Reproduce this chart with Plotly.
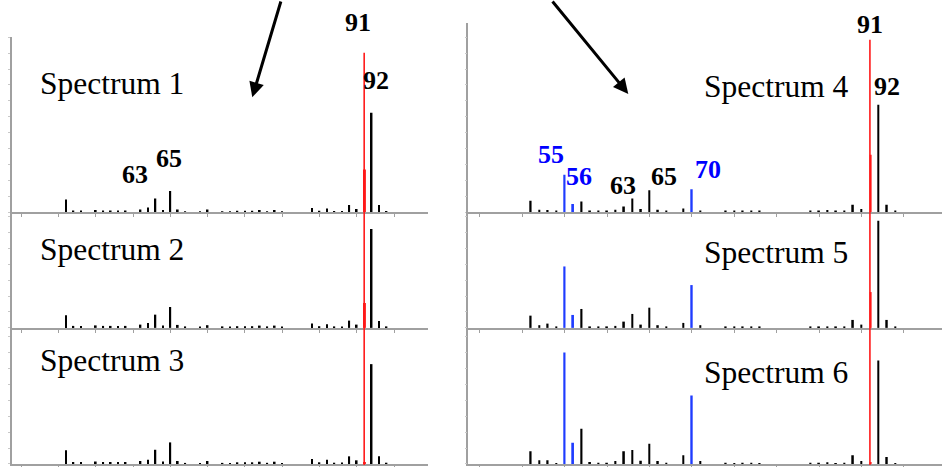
import plotly.graph_objects as go

# ---------------- data ----------------
mz_left = [51, 52, 53, 55, 56, 57, 58, 59, 61, 62, 63, 64, 65, 66, 67, 69, 70, 72, 73,
           74, 75, 76, 77, 78, 79, 80, 84, 85, 86, 87, 88, 89, 90, 92, 93, 94]
spec1 = [13.0, 2.0, 2.0, 2.5, 2.0, 2.0, 2.0, 2.0, 3.0, 5.0, 14.0, 2.5, 21.5, 3.0, 1.0, 1.0, 3.0, 1.0, 1.0,
         1.7, 1.7, 1.7, 2.3, 1.2, 2.3, 1.0, 4.5, 1.7, 4.0, 1.3, 1.5, 7.3, 3.5, 100.0, 7.3, 1.3]
spec2 = [12.7, 2.0, 2.0, 2.5, 2.0, 2.0, 2.0, 2.0, 3.3, 5.0, 13.3, 2.5, 21.0, 3.0, 1.0, 1.0, 2.7, 1.0, 1.0,
         1.7, 1.7, 1.7, 2.3, 1.2, 2.3, 1.0, 4.3, 1.7, 3.7, 1.3, 1.5, 7.3, 3.3, 99.3, 7.0, 1.3]
spec3 = [13.7, 2.0, 2.0, 2.5, 2.0, 2.0, 2.0, 2.0, 3.0, 4.3, 14.3, 2.5, 21.7, 3.0, 1.0, 1.0, 3.0, 1.0, 1.0,
         1.7, 1.7, 1.7, 2.3, 1.2, 2.3, 1.0, 5.0, 1.7, 4.3, 1.3, 1.5, 7.7, 3.7, 100.3, 7.7, 1.3]

mz_right = [51, 52, 53, 54, 57, 58, 59, 60, 61, 62, 63, 64, 65, 66, 67, 69, 71, 74, 75, 76, 77, 78,
            84, 85, 86, 87, 88, 89, 90, 92, 93, 94]
spec4 = [11.7, 2.7, 2.3, 1.0, 11.0, 1.3, 1.0, 1.0, 2.7, 6.0, 14.0, 3.3, 22.3, 2.7, 1.3, 4.0, 1.7, 2.0, 1.0, 1.3, 1.7, 1.0,
         1.0, 1.3, 2.3, 1.0, 1.0, 7.7, 3.3, 108.0, 7.7, 1.0]
spec5 = [12.3, 2.7, 4.3, 1.0, 19.0, 1.3, 1.0, 1.0, 2.0, 6.3, 14.0, 3.3, 20.3, 2.7, 1.3, 5.0, 2.7, 1.3, 1.0, 1.3, 1.3, 1.0,
         1.0, 1.0, 1.3, 1.0, 1.3, 8.0, 3.3, 107.7, 8.0, 1.0]
spec6 = [12.7, 3.7, 3.7, 1.0, 35.3, 2.0, 1.3, 1.3, 3.0, 12.7, 14.0, 3.3, 20.3, 3.0, 1.3, 8.7, 3.0, 1.3, 1.0, 1.3, 1.3, 1.0,
         1.3, 1.3, 1.7, 1.0, 1.3, 8.7, 3.0, 104.0, 7.0, 1.0]

blue_mz = [55, 56, 70]
blue4 = [37.7, 8.3, 23.3]
blue5 = [61.7, 13.0, 43.0]
blue6 = [112.0, 21.3, 68.7]

marker_mz = 91
red_left = [43.0, 25.0, 2.0]
red_right = [58.0, 36.0, 2.0]

spectrum_names = ["Spectrum 1", "Spectrum 2", "Spectrum 3", "Spectrum 4", "Spectrum 5", "Spectrum 6"]

# ---------------- layout helpers ----------------
W, H = 942, 467


def py(px):
    return 1 - px / H


def pxx(px):
    return px / W


BLACK = "#000000"
BLUE = "#1f3cff"
RED = "#ff1a1a"
AXIS = "#a0a0a0"
FONT = "Times New Roman, Liberation Serif, serif"

fig = go.Figure()

left_specs = [spec1, spec2, spec3]
right_specs = [spec4, spec5, spec6]
right_blue = [blue4, blue5, blue6]

for i in range(3):
    ax = "" if i == 0 else str(i + 1)
    fig.add_trace(go.Bar(x=mz_left, y=left_specs[i], width=0.22, marker=dict(color=BLACK, line_width=0),
                         xaxis="x" + ax, yaxis="y" + ax, showlegend=False))
    fig.add_trace(go.Bar(x=[marker_mz + 0.1], y=[red_left[i]], width=0.26, marker=dict(color=RED, line_width=0),
                         xaxis="x" + ax, yaxis="y" + ax, showlegend=False))
for i in range(3):
    ax = str(i + 4)
    fig.add_trace(go.Bar(x=mz_right, y=right_specs[i], width=0.2, marker=dict(color=BLACK, line_width=0),
                         xaxis="x" + ax, yaxis="y" + ax, showlegend=False))
    fig.add_trace(go.Bar(x=blue_mz, y=right_blue[i], width=0.2, marker=dict(color=BLUE, line_width=0),
                         xaxis="x" + ax, yaxis="y" + ax, showlegend=False))
    fig.add_trace(go.Bar(x=[marker_mz + 0.08], y=[red_right[i]], width=0.24, marker=dict(color=RED, line_width=0),
                         xaxis="x" + ax, yaxis="y" + ax, showlegend=False))

# panel pixel geometry (top, bottom)
left_rows = [(37.3, 213.3), (213.3, 329.3), (329.3, 466.0)]
right_rows = [(22.7, 213.3), (213.3, 329.3), (329.3, 466.0)]
left_x = (12.0, 428.0)
right_x = (468.3, 942.0)
left_range = [43.76, 99.56]
right_range = [43.64, 99.50]

axis_common_x = dict(showline=True, linecolor=AXIS, linewidth=1.6, ticks="outside", ticklen=3, tickwidth=1,
                     tickcolor=AXIS, dtick=5, tick0=0, showticklabels=False, showgrid=False, zeroline=False,
                     fixedrange=True)
axis_common_y = dict(showline=True, linecolor=AXIS, linewidth=1.6, ticks="outside", ticklen=2, tickwidth=1,
                     tickcolor="#c8c8c8", dtick=16, showticklabels=False, showgrid=False, zeroline=False,
                     fixedrange=True)

layout_axes = {}
for i in range(6):
    name = "" if i == 0 else str(i + 1)
    if i < 3:
        top, bot = left_rows[i]
        xd = left_x
        xr = left_range
    else:
        top, bot = right_rows[i - 3]
        xd = right_x
        xr = right_range
    layout_axes["xaxis" + name] = dict(axis_common_x, domain=[pxx(xd[0]), pxx(xd[1])], range=xr,
                                       anchor="y" + name)
    layout_axes["yaxis" + name] = dict(axis_common_y, domain=[py(bot), py(top)], range=[0, bot - top],
                                       anchor="x" + name)

# red marker lines at m/z 91 across each column
shapes = [
    dict(type="line", xref="x", yref="paper", x0=marker_mz, x1=marker_mz, y0=0, y1=py(53),
         line=dict(color=RED, width=1.6)),
    dict(type="line", xref="x4", yref="paper", x0=marker_mz, x1=marker_mz, y0=0, y1=py(40),
         line=dict(color=RED, width=1.6)),
]

annotations = []
# spectrum names
name_pos = [(37.5, 83.8), (37.5, 250.3), (37.5, 362.5), (701.5, 87.2), (701.5, 254.0), (701.5, 373.8)]
for nm, (x, y) in zip(spectrum_names, name_pos):
    annotations.append(dict(text=nm, xref="paper", yref="paper", x=pxx(x), y=py(y), xanchor="left",
                            yanchor="middle", showarrow=False, font=dict(family=FONT, size=31.5, color=BLACK)))

# peak labels: (text, mz, xref, xshift, y_px, color)
peak_labels = [
    ("91", 91, "x", -6, 22.8, BLACK),
    ("92", 92, "x", 4, 81.3, BLACK),
    ("63", 63, "x", -20, 175.0, BLACK),
    ("65", 65, "x", -1, 158.7, BLACK),
    ("91", 91, "x4", 0, 24.2, BLACK),
    ("92", 92, "x4", 9, 87.0, BLACK),
    ("55", 55, "x4", -14, 155.0, "#0000ff"),
    ("56", 56, "x4", 6, 177.5, "#0000ff"),
    ("63", 63, "x4", -9, 186.7, BLACK),
    ("65", 65, "x4", 15, 177.5, BLACK),
    ("70", 70, "x4", 16, 170.5, "#0000ff"),
]
for t, m, xr, xs, y, c in peak_labels:
    annotations.append(dict(text="<b>%s</b>" % t, xref=xr, yref="paper", x=m, xshift=xs, y=py(y),
                            xanchor="center", yanchor="middle", showarrow=False,
                            font=dict(family=FONT, size=26, color=c)))

# arrows
annotations.append(dict(text="", xref="paper", yref="paper", x=pxx(252.3), y=py(97.7), ax=29, ay=-104,
                        showarrow=True, arrowhead=2, arrowsize=1.0, arrowwidth=3, arrowcolor=BLACK, standoff=0))
annotations.append(dict(text="", xref="paper", yref="paper", x=pxx(628.3), y=py(94.3), ax=-77, ay=-100,
                        showarrow=True, arrowhead=2, arrowsize=1.0, arrowwidth=3, arrowcolor=BLACK, standoff=0))

fig.update_layout(
    width=W, height=H,
    margin=dict(l=0, r=0, t=0, b=0),
    paper_bgcolor="white", plot_bgcolor="rgba(0,0,0,0)",
    barmode="overlay",
    shapes=shapes,
    annotations=annotations,
    showlegend=False,
    **layout_axes,
)

fig.write_html("out.html", config=dict(displayModeBar=False),
               post_script="document.body.style.margin='0';document.body.style.overflow='hidden';")
